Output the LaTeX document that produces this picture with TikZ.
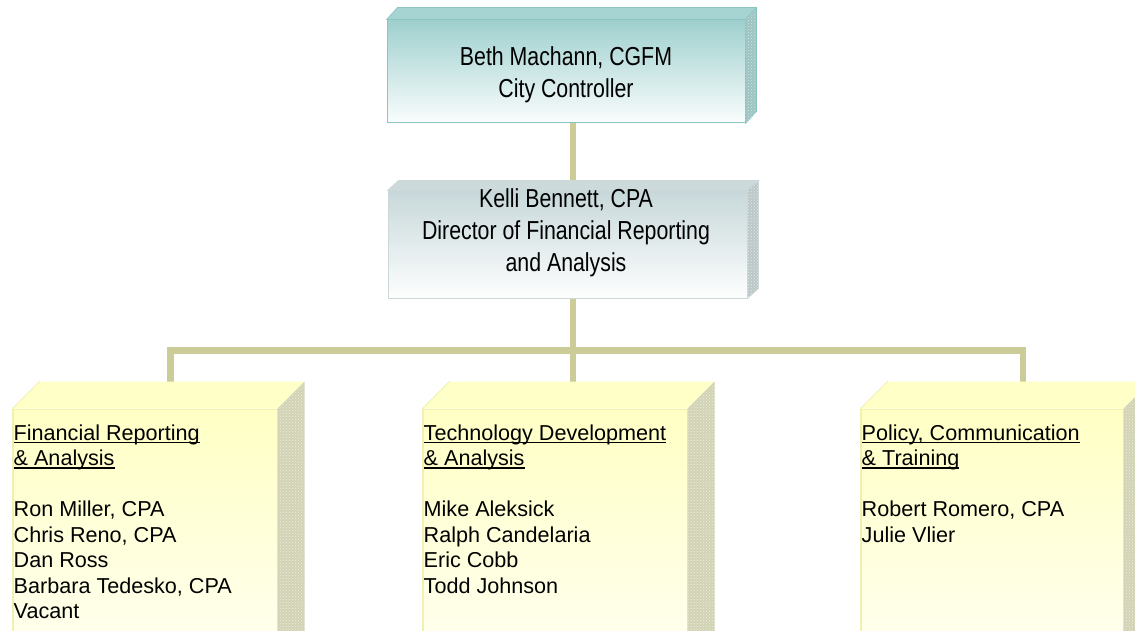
\documentclass[tikz,border=0pt]{standalone}
\usepackage{fontspec}
\setmainfont{Liberation Sans}
\newfontfamily\narrowfont[FakeStretch=0.82]{Liberation Sans}
\usetikzlibrary{patterns,calc}
\pgfdeclarelayer{bg}
\pgfsetlayers{bg,main}
\definecolor{conncol}{HTML}{CCCC99}
\definecolor{tealtop}{HTML}{9ED0CE}
\definecolor{tealbot}{HTML}{FAFDFD}
\definecolor{tealface}{HTML}{A6D4D2}
\definecolor{tealside}{HTML}{9CC4C2}
\definecolor{tealedge}{HTML}{8CC4C2}
\definecolor{dirtop}{HTML}{C8D8DA}
\definecolor{dirbot}{HTML}{FDFEFE}
\definecolor{dirface}{HTML}{CCDADC}
\definecolor{dirside}{HTML}{BCC8C8}
\definecolor{diredge}{HTML}{CCD8D8}
\definecolor{yeltop}{HTML}{FFFFC4}
\definecolor{yelbot}{HTML}{FFFFF8}
\definecolor{yelface}{HTML}{FFFFC8}
\definecolor{yelside}{HTML}{D2D2B4}
\definecolor{yeledge}{HTML}{F0F0B0}
\newcommand\ulx[1]{\setbox0\hbox{#1}\rlap{\rule[-3.4pt]{\wd0}{1.6pt}}\box0}
\tikzset{
  conn/.style={draw=conncol, line width=6.5pt, line join=miter},
  frontbox/.style={rectangle, inner sep=0pt, line width=1pt},
  toptext/.style={align=center, inner sep=0pt, font=\narrowfont\fontsize{26}{32}\selectfont},
  unittext/.style={anchor=base west, inner sep=0pt, font=\fontsize{21.6}{25.5}\selectfont},
}
\begin{document}
\begin{tikzpicture}[x=1pt,y=-1pt]
\useasboundingbox (0,0) rectangle (1135,631);
\clip (0,0) rectangle (1135,631);

% ---------- Controller ----------
\node[frontbox, top color=tealtop, bottom color=tealbot, draw=tealedge,
      minimum width=358pt, minimum height=103pt] (ctl) at (566,71.5) {};
\filldraw[fill=tealface, draw=tealedge, line width=0.6pt] (ctl.north west) -- ++(11,-12) -- ($(ctl.north east)+(11,-12)$) -- (ctl.north east) -- cycle;
\filldraw[fill=tealside, draw=tealedge, line width=0.6pt] (ctl.north east) -- ++(11,-12) -- ($(ctl.south east)+(11,-12)$) -- (ctl.south east) -- cycle;
\fill[pattern=crosshatch dots, pattern color=white!55!tealside] (ctl.north east) -- ++(11,-12) -- ($(ctl.south east)+(11,-12)$) -- (ctl.south east) -- cycle;
\node[toptext] (ctltext) at ($(ctl.center)+(0,3)$) {Beth Machann, CGFM\\City Controller};

% ---------- Director ----------
\node[frontbox, top color=dirtop, bottom color=dirbot, draw=diredge,
      minimum width=359pt, minimum height=107pt] (dir) at (567.5,244.5) {};
\filldraw[fill=dirface, draw=diredge, line width=0.6pt] (dir.north west) -- ++(11,-10) -- ($(dir.north east)+(11,-10)$) -- (dir.north east) -- cycle;
\filldraw[fill=dirside, draw=diredge, line width=0.6pt] (dir.north east) -- ++(11,-10) -- ($(dir.south east)+(11,-10)$) -- (dir.south east) -- cycle;
\fill[pattern=crosshatch dots, pattern color=white!55!dirside] (dir.north east) -- ++(11,-10) -- ($(dir.south east)+(11,-10)$) -- (dir.south east) -- cycle;
\node[toptext] (dirtext) at (566,232.4) {Kelli Bennett, CPA\\Director of Financial Reporting\\and Analysis};

% ---------- Units ----------
\foreach \nm/\cx/\w in {fra/145/264, tda/555/264, pct/992/262} {
  \node[frontbox, top color=yeltop, bottom color=yelbot, draw=yeledge,
        minimum width=\w pt, minimum height=291pt] (\nm) at (\cx,554.5) {};
  \fill[yelface] (\nm.north west) -- ++(27,-27) -- ($(\nm.north east)+(27,-27)$) -- (\nm.north east) -- cycle;
  \fill[yelside] (\nm.north east) -- ++(27,-27) -- ($(\nm.south east)+(27,-27)$) -- (\nm.south east) -- cycle;
  \fill[pattern=crosshatch dots, pattern color=white!60!yelside] (\nm.north east) -- ++(27,-27) -- ($(\nm.south east)+(27,-27)$) -- (\nm.south east) -- cycle;
  \draw[yeledge, line width=1pt] (\nm.south west) -- (\nm.north west) -- ++(27,-27);
}

% texts of units
\node[unittext] (fra1) at (13.5,440) {\ulx{Financial Reporting}};
\node[unittext] (fra2) at (13.5,465.5) {\ulx{\&\ Analysis}};
\foreach \t [count=\i from 0] in {{Ron Miller, CPA},{Chris Reno, CPA},{Dan Ross},{Barbara Tedesko, CPA},{Vacant}}
  \node[unittext] (fram\i) at (13.5,516.5+25.5*\i) {\t};

\node[unittext] (tda1) at (423.5,440) {\ulx{Technology Development}};
\node[unittext] (tda2) at (423.5,465.5) {\ulx{\&\ Analysis}};
\foreach \t [count=\i from 0] in {{Mike Aleksick},{Ralph Candelaria},{Eric Cobb},{Todd Johnson}}
  \node[unittext] (tdam\i) at (423.5,516.5+25.5*\i) {\t};

\node[unittext] (pct1) at (861.5,440) {\ulx{Policy, Communication}};
\node[unittext] (pct2) at (861.5,465.5) {\ulx{\&\ Training}};
\foreach \t [count=\i from 0] in {{Robert Romero, CPA},{Julie Vlier}}
  \node[unittext] (pctm\i) at (861.5,516.5+25.5*\i) {\t};

% ---------- Connectors ----------
\coordinate (bus) at (573,350.5);
\begin{pgfonlayer}{bg}
  \fill[white] (0,0) rectangle (1135,631);
  \draw[conn] (ctl.south -| bus) -- ($(tda.north -| bus)+(0,-18)$);
  \draw[conn] ($(fra.north)+(25.5,-18)$) |- (bus) -| ($(pct.north)+(31,-18)$);
\end{pgfonlayer}
\end{tikzpicture}
\end{document}
